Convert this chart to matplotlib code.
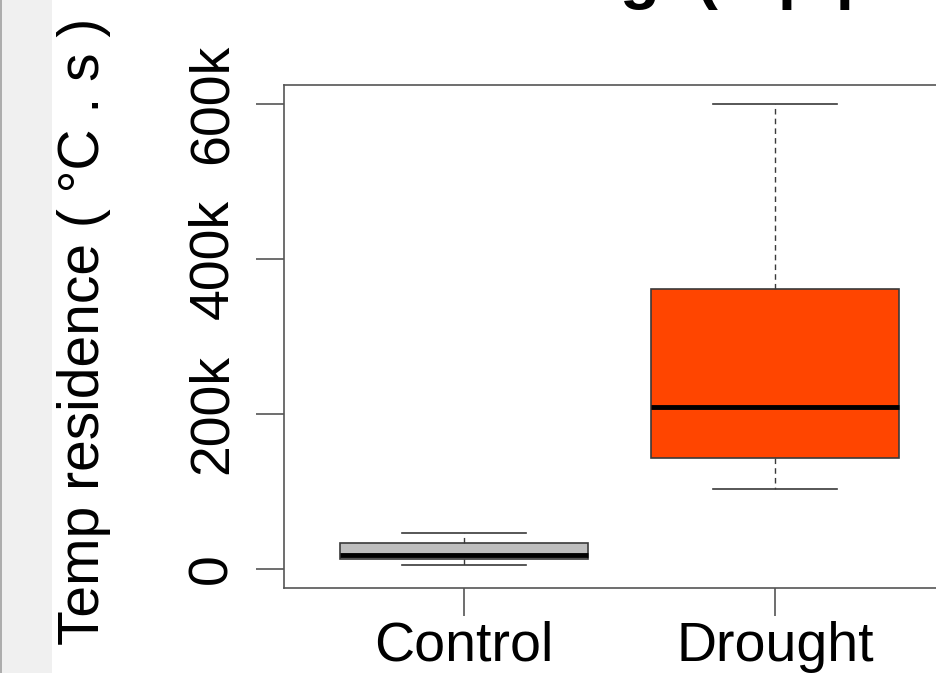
import matplotlib
matplotlib.use("Agg")
import matplotlib.pyplot as plt
from matplotlib.patches import Rectangle
from matplotlib.lines import Line2D

plt.rcParams['font.family'] = ['Liberation Sans', 'DejaVu Sans']

# data (temp residence, degC.s)
groups = ["Control", "Drought"]
whisk_low = [5500, 103000]
q1 = [13300, 143000]
medians = [17700, 209000]
q3 = [33200, 361000]
whisk_high = [46800, 600000]
box_colors = ["#bebebe", "#ff4500"]

yticks = [0, 200000, 400000, 600000]
ytick_labels = ["0", "200k", "400k", "600k"]

W, H = 937, 673
fig = plt.figure(figsize=(W / 100, H / 100), dpi=100)

# grey strip down the left side
fig.patches.append(Rectangle((0, 0), 52 / W, 1, transform=fig.transFigure,
                             facecolor="#f0f0f0", edgecolor="none", zorder=0))
fig.lines.append(Line2D([0.5 / W, 0.5 / W], [0, 1], transform=fig.transFigure,
                        color="#a0a0a0", lw=1.2))

ax = fig.add_axes([284 / W, 85 / H, 671 / W, 503 / H])

stats = []
for i in range(len(groups)):
    stats.append({"label": groups[i], "whislo": whisk_low[i], "q1": q1[i],
                  "med": medians[i], "q3": q3[i], "whishi": whisk_high[i],
                  "fliers": []})

edge = "#3a3a3a"
bp = ax.bxp(stats, positions=[1, 2], widths=0.8, patch_artist=True,
            showfliers=False,
            boxprops=dict(edgecolor=edge, linewidth=1.2),
            whiskerprops=dict(color=edge, linestyle=(0, (4, 3)), linewidth=1.0),
            capprops=dict(color=edge, linewidth=1.2),
            medianprops=dict(color="black", linewidth=3.5),
            capwidths=0.4)
for patch, c in zip(bp["boxes"], box_colors):
    patch.set_facecolor(c)

ax.set_xlim(0.42, 2.58)
ax.set_ylim(-24500, 624500)
ax.set_yticks(yticks)
ax.set_yticklabels(ytick_labels, rotation=90, va="center")
ax.set_xticks([1, 2])
ax.set_xticklabels(groups)

for s in ax.spines.values():
    s.set_color("#555555")
    s.set_linewidth(1.2)
ax.tick_params(axis="both", length=20, width=1.2, color="#555555",
               labelsize=40, labelcolor="black")
ax.tick_params(axis="x", pad=3.5)
ax.tick_params(axis="y", pad=12.5)

fig.text(84 / W, 1 - 331 / H, "Temp residence ( \u00b0C . s )", rotation=90,
         ha="center", va="center", fontsize=41)

# title, mostly cut off at the top of the image
fig.text(620 / W, 1 + 3 / H, "g  (", fontsize=47, fontweight="bold",
         ha="left", va="baseline")
fig.text(778 / W, 1 + 3 / H, "p p", fontsize=47, fontweight="bold",
         ha="left", va="baseline")

fig.savefig("out.png", dpi=100)
